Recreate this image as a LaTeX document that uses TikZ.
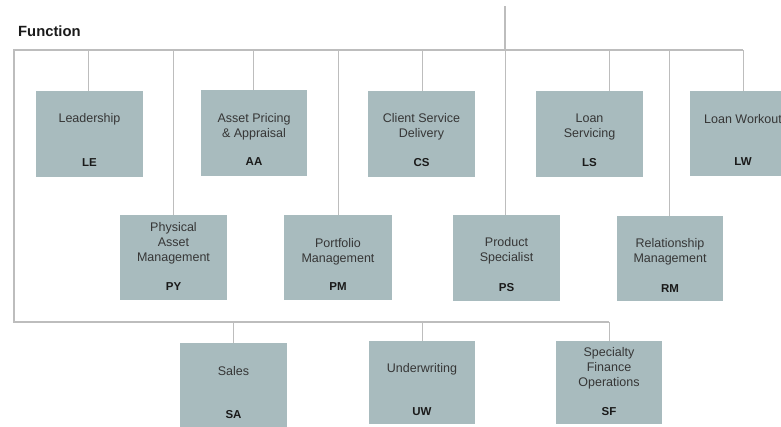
\documentclass[tikz,border=0pt]{standalone}
\usepackage{fontspec}
\setmainfont{Liberation Sans}
\definecolor{boxfill}{HTML}{A8BBBE}
\definecolor{linec}{HTML}{BDBDBD}
\definecolor{titlec}{HTML}{363636}
\definecolor{codec}{HTML}{1A1A1A}
\tikzset{
  unitbox/.style={rectangle, fill=boxfill, draw=none, anchor=north west, inner sep=0pt},
  ttl/.style={text=titlec, font=\fontsize{12.5}{14.8}\selectfont, align=center, inner sep=0pt},
  code/.style={text=codec, font=\fontsize{11.5}{13}\selectfont\bfseries, inner sep=0pt},
  conn/.style={draw=linec, line width=1.1pt}
}
\begin{document}
\begin{tikzpicture}[x=1pt,y=-1pt]
\useasboundingbox (0,0) rectangle (781,426);
\clip (0,0) rectangle (781,426);
\fill[white] (0,0) rectangle (781,426);

\node[anchor=west, text=codec, font=\fontsize{14.8}{17}\selectfont\bfseries, inner sep=0pt] (fn) at (18,31) {Function};

% boxes
\newcommand{\unit}[9]{%
  \node[unitbox, minimum width=#4pt, minimum height=#5pt] (#1) at (#2,#3) {};
  \node[ttl] (#1t) at (#6,#7) {#8};
  \node[code] (#1c) at (#6,#9) {#1};
}
\unit{LE}{36}{91}{107}{86}{89.5}{119}{Leadership}{163}
\unit{AA}{201}{90}{106}{86}{254}{126.5}{Asset Pricing\\\& Appraisal}{162}
\unit{CS}{368}{91}{107}{86}{421.5}{126.5}{Client Service\\Delivery}{163}
\unit{LS}{536}{91}{107}{86}{589.5}{127}{Loan\\Servicing}{163}
\unit{LW}{690}{91}{107}{85}{743}{119}{Loan Workout}{162}
\unit{PY}{120}{215}{107}{85}{173.5}{243.5}{Physical\\Asset\\Management}{287}
\unit{PM}{284}{215}{108}{85}{338}{251.5}{Portfolio\\Management}{287}
\unit{PS}{453}{215}{107}{86}{506.5}{250.5}{Product\\Specialist}{288}
\unit{RM}{617}{216}{106}{85}{670}{251.5}{Relationship\\Management}{289}
\unit{SA}{180}{343}{107}{86}{233.5}{371}{Sales}{415}
\unit{UW}{369}{341}{106}{83}{422}{369}{Underwriting}{412}
\unit{SF}{556}{341}{106}{83}{609}{368.5}{Specialty\\Finance\\Operations}{412}

% connector skeleton
\coordinate (root) at (505,6);
\coordinate (hub) at (505,50);
\coordinate (tl) at (14,50);
\coordinate (tr) at (743,50);
\coordinate (bl) at (14,322);
\coordinate (br) at (609,322);

\draw[conn] (root) -- (hub);
\draw[conn] (tr) -- (tl) -- (bl) -- (br);

% top row drops
\draw[conn] ([xshift=-1.5pt]LE.north) -- ([xshift=-1.5pt]LE.north |- hub);
\draw[conn] ([xshift=-1pt]AA.north) -- ([xshift=-1pt]AA.north |- hub);
\draw[conn] ([xshift=0.5pt]CS.north) -- ([xshift=0.5pt]CS.north |- hub);
\draw[conn] ([xshift=19.5pt]LS.north) -- ([xshift=19.5pt]LS.north |- hub);
\draw[conn] (LW.north) -- (LW.north |- hub);
% middle row drops
\draw[conn] ([xshift=-0.5pt]PY.north) -- ([xshift=-0.5pt]PY.north |- hub);
\draw[conn] (PM.north) -- (PM.north |- hub);
\draw[conn] ([xshift=-1.5pt]PS.north) -- ([xshift=-1.5pt]PS.north |- hub);
\draw[conn] ([xshift=-1pt]RM.north) -- ([xshift=-1pt]RM.north |- hub);
% bottom row drops
\draw[conn] (SA.north) -- (SA.north |- bl);
\draw[conn] (UW.north) -- (UW.north |- bl);
\draw[conn] (SF.north) -- (SF.north |- bl);
\end{tikzpicture}
\end{document}
